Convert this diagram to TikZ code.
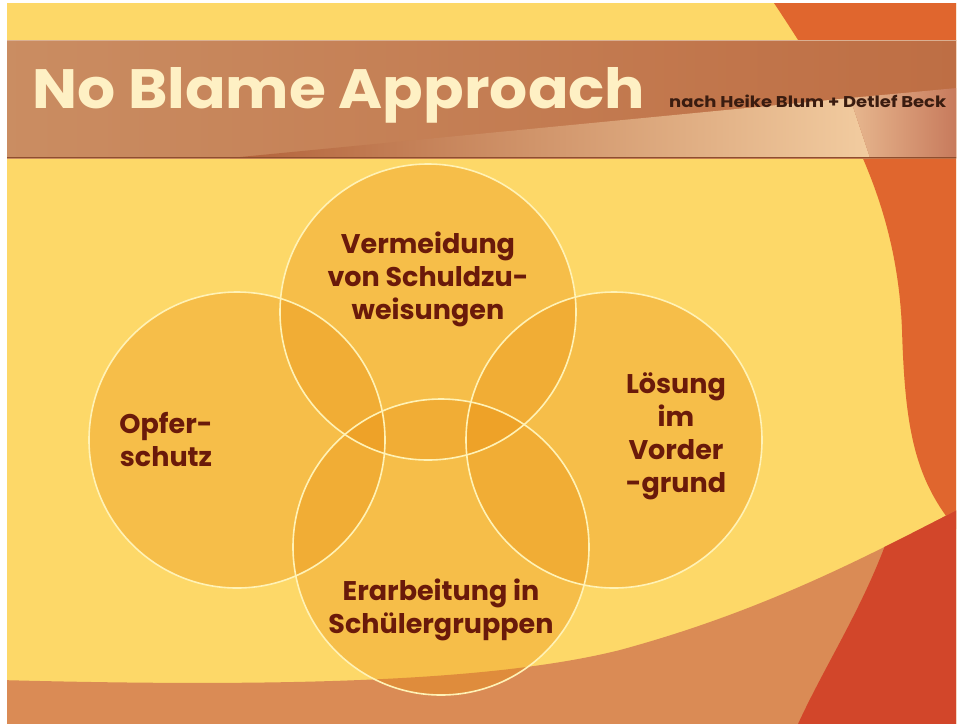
\documentclass[tikz,border=0pt]{standalone}
\usepackage{fontspec}
\setmainfont{Poppins}
\usetikzlibrary{fadings}
\definecolor{yel}{HTML}{FDD868}
\definecolor{orng}{HTML}{E0662E}
\definecolor{salm}{HTML}{DA8B55}
\definecolor{redd}{HTML}{D2462A}
\definecolor{bandL}{HTML}{CA8D62}
\definecolor{bandM}{HTML}{B2623A}
\definecolor{bandR}{HTML}{BE6E44}
\definecolor{cream}{HTML}{F2CCA0}
\definecolor{pinkb}{HTML}{C77A5C}
\definecolor{titleC}{HTML}{FEF0C4}
\definecolor{subC}{HTML}{3A1C10}
\definecolor{circC}{HTML}{E98F10}
\definecolor{ringC}{HTML}{FFF2B6}
\definecolor{labC}{HTML}{6A1A0A}
\tikzset{
  circ/.style={circle, minimum size=296pt, inner sep=0pt, fill=circC, fill opacity=0.35},
  ring/.style={draw=ringC, line width=1.6pt},
  lab/.style={text=labC, font=\bfseries\fontsize{27}{33}\selectfont, align=center, inner sep=0pt}
}
\begin{document}
\begin{tikzpicture}[x=1pt,y=-1pt]
\useasboundingbox (0,0) rectangle (957,724);
\fill[white] (0,0) rectangle (957,724);
\begin{scope}
\clip (7,3) rectangle (956,723);
\fill[yel] (0,0) rectangle (957,724);
\fill[orng] (772,0) .. controls (845,110) and (897,200) .. (902,330) .. controls (905,430) and (915,480) .. (957,530) -- (957,0) -- cycle;
\begin{scope}
\clip (0,680) .. controls (300,688) and (500,680) .. (620,650) .. controls (760,612) and (860,560) .. (957,510) -- (957,724) -- (0,724) -- cycle;
\fill[salm] (0,0) rectangle (957,724);
\fill[redd] (905,480) .. controls (882,580) and (832,650) .. (798,724) -- (957,724) -- (957,480) -- cycle;
\end{scope}
% title band
\shade[left color=bandL, middle color=bandM, right color=bandR] (0,40) rectangle (957,158);
\shade[left color=bandM, right color=cream] (230,158) -- (850,98) -- (870,158) -- cycle;
\shade[left color=cream!75!pinkb, right color=pinkb] (850,98) -- (957,88) -- (957,158) -- (870,158) -- cycle;
\draw[bandL!70!white, line width=1pt] (0,40.5) -- (957,40.5);
\draw[bandM!80!black, line width=1pt] (0,157.5) -- (957,157.5);
\end{scope}
\node[anchor=base west, inner sep=0pt, text=titleC] (title) at (32,108)
  {\resizebox{613pt}{41pt}{\bfseries No Blame Approach}};
\node[anchor=base west, inner sep=0pt, text=subC] (sub) at (669,107)
  {\resizebox{277pt}{12.5pt}{\bfseries nach Heike Blum + Detlef Beck}};
% circles
\node[circ] (ctop) at (428,312) {};
\node[circ] (cleft) at (237,440) {};
\node[circ] (cright) at (614,440) {};
\node[circ] (cbot) at (441,547) {};
\draw[ring] (ctop.center) circle[radius=148];
\draw[ring] (cleft.center) circle[radius=148];
\draw[ring] (cright.center) circle[radius=148];
\draw[ring] (cbot.center) circle[radius=148];
% labels
\node[lab] (ltop) at (428,279) {Vermeidung\\von Schuldzu-\\weisungen};
\node[lab] (lleft) at (166,440) {Opfer-\\schutz};
\node[lab] (lright) at (676,436) {Lösung\\im\\Vorder\\-grund};
\node[lab] (lbot) at (441,610) {Erarbeitung in\\Schülergruppen};
\end{tikzpicture}
\end{document}
